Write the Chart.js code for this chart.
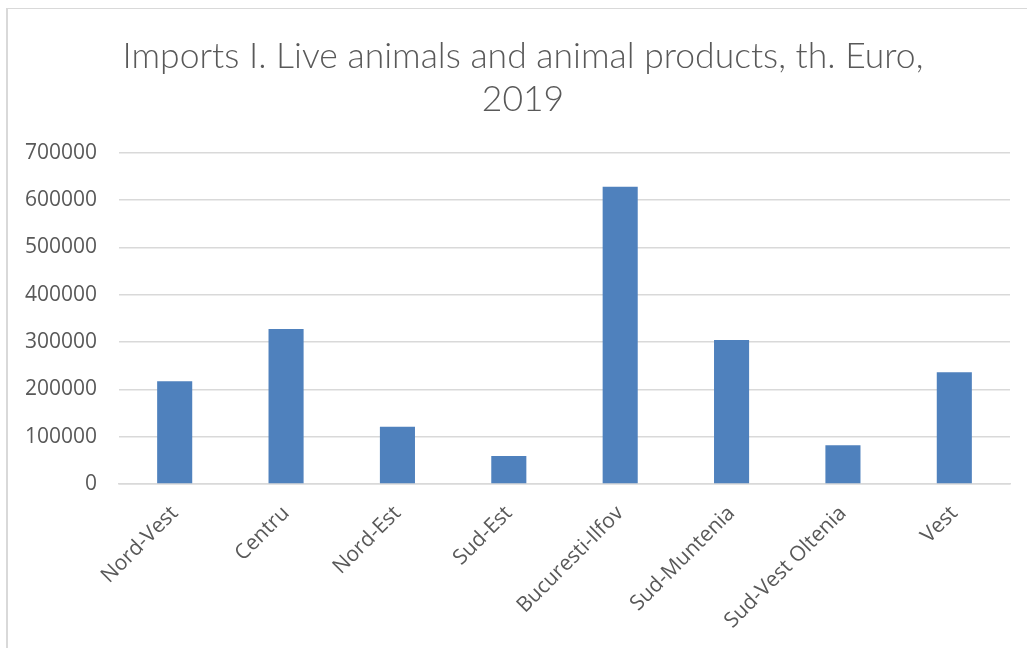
<!DOCTYPE html>
<html>
<head>
<meta charset="utf-8">
<script src="https://cdn.jsdelivr.net/npm/chart.js@4.4.1/dist/chart.umd.min.js"></script>
<style>
  html, body { margin: 0; padding: 0; background: #ffffff; overflow: hidden; }
  #wrap { position: absolute; left: 0; top: 0; width: 1046px; height: 648px; }
  #frame { position: absolute; left: 6px; top: 8px; width: 1100px; height: 700px;
           border-left: 2px solid #d9d9d9; border-top: 1px solid #d9d9d9; pointer-events: none; }
</style>
</head>
<body>
<div id="wrap"><canvas id="c" width="1046" height="648"></canvas></div>
<div id="frame"></div>
<script>
const categories = ['Nord-Vest', 'Centru', 'Nord-Est', 'Sud-Est', 'Bucuresti-Ilfov', 'Sud-Muntenia', 'Sud-Vest Oltenia', 'Vest'];
const importValues = [217000, 327500, 121000, 59000, 628000, 304000, 82000, 236000];
const titleLines = ['Imports I. Live animals and animal products, th. Euro,', '2019'];
const yTicks = [0, 100000, 200000, 300000, 400000, 500000, 600000, 700000];

const ctx = document.getElementById('c').getContext('2d');
new Chart(ctx, {
  type: 'bar',
  data: {
    labels: categories,
    datasets: [{
      data: importValues,
      backgroundColor: '#4f81bd',
      borderWidth: 0,
      barPercentage: 0.63,
      categoryPercentage: 0.5
    }]
  },
  options: {
    responsive: false,
    animation: false,
    layout: { padding: { left: 0, right: 0, top: 0, bottom: 0 } },
    plugins: {
      legend: { display: false },
      tooltip: { enabled: false },
      title: {
        display: true,
        text: titleLines,
        color: '#595959',
        font: { family: 'Lato', size: 35.5, weight: '300', lineHeight: 1.22 },
        padding: { top: 35, bottom: 31 }
      }
    },
    scales: {
      x: {
        grid: { display: false, drawTicks: false },
        border: { display: true, color: '#d9d9d9', width: 1.5 },
        ticks: {
          color: '#595959',
          font: { family: 'Open Sans', size: 21 },
          maxRotation: 45, minRotation: 45,
          padding: 17,
          autoSkip: false
        },
        afterFit(scale) { scale.height = 164; }
      },
      y: {
        min: 0, max: 700000,
        afterBuildTicks(scale) { scale.ticks = yTicks.map(v => ({ value: v })); },
        grid: { color: '#d9d9d9', lineWidth: 1.5, drawTicks: false },
        border: { display: false },
        ticks: {
          color: '#595959',
          font: { family: 'Open Sans', size: 21 },
          padding: 22,
          callback: v => String(v)
        },
        afterFit(scale) { scale.width = 119; }
      },
      yPad: {
        position: 'right',
        display: true,
        grid: { display: false, drawTicks: false },
        border: { display: false },
        ticks: { display: false },
        afterFit(scale) { scale.width = 36; }
      }
    }
  }
});
</script>
</body>
</html>
